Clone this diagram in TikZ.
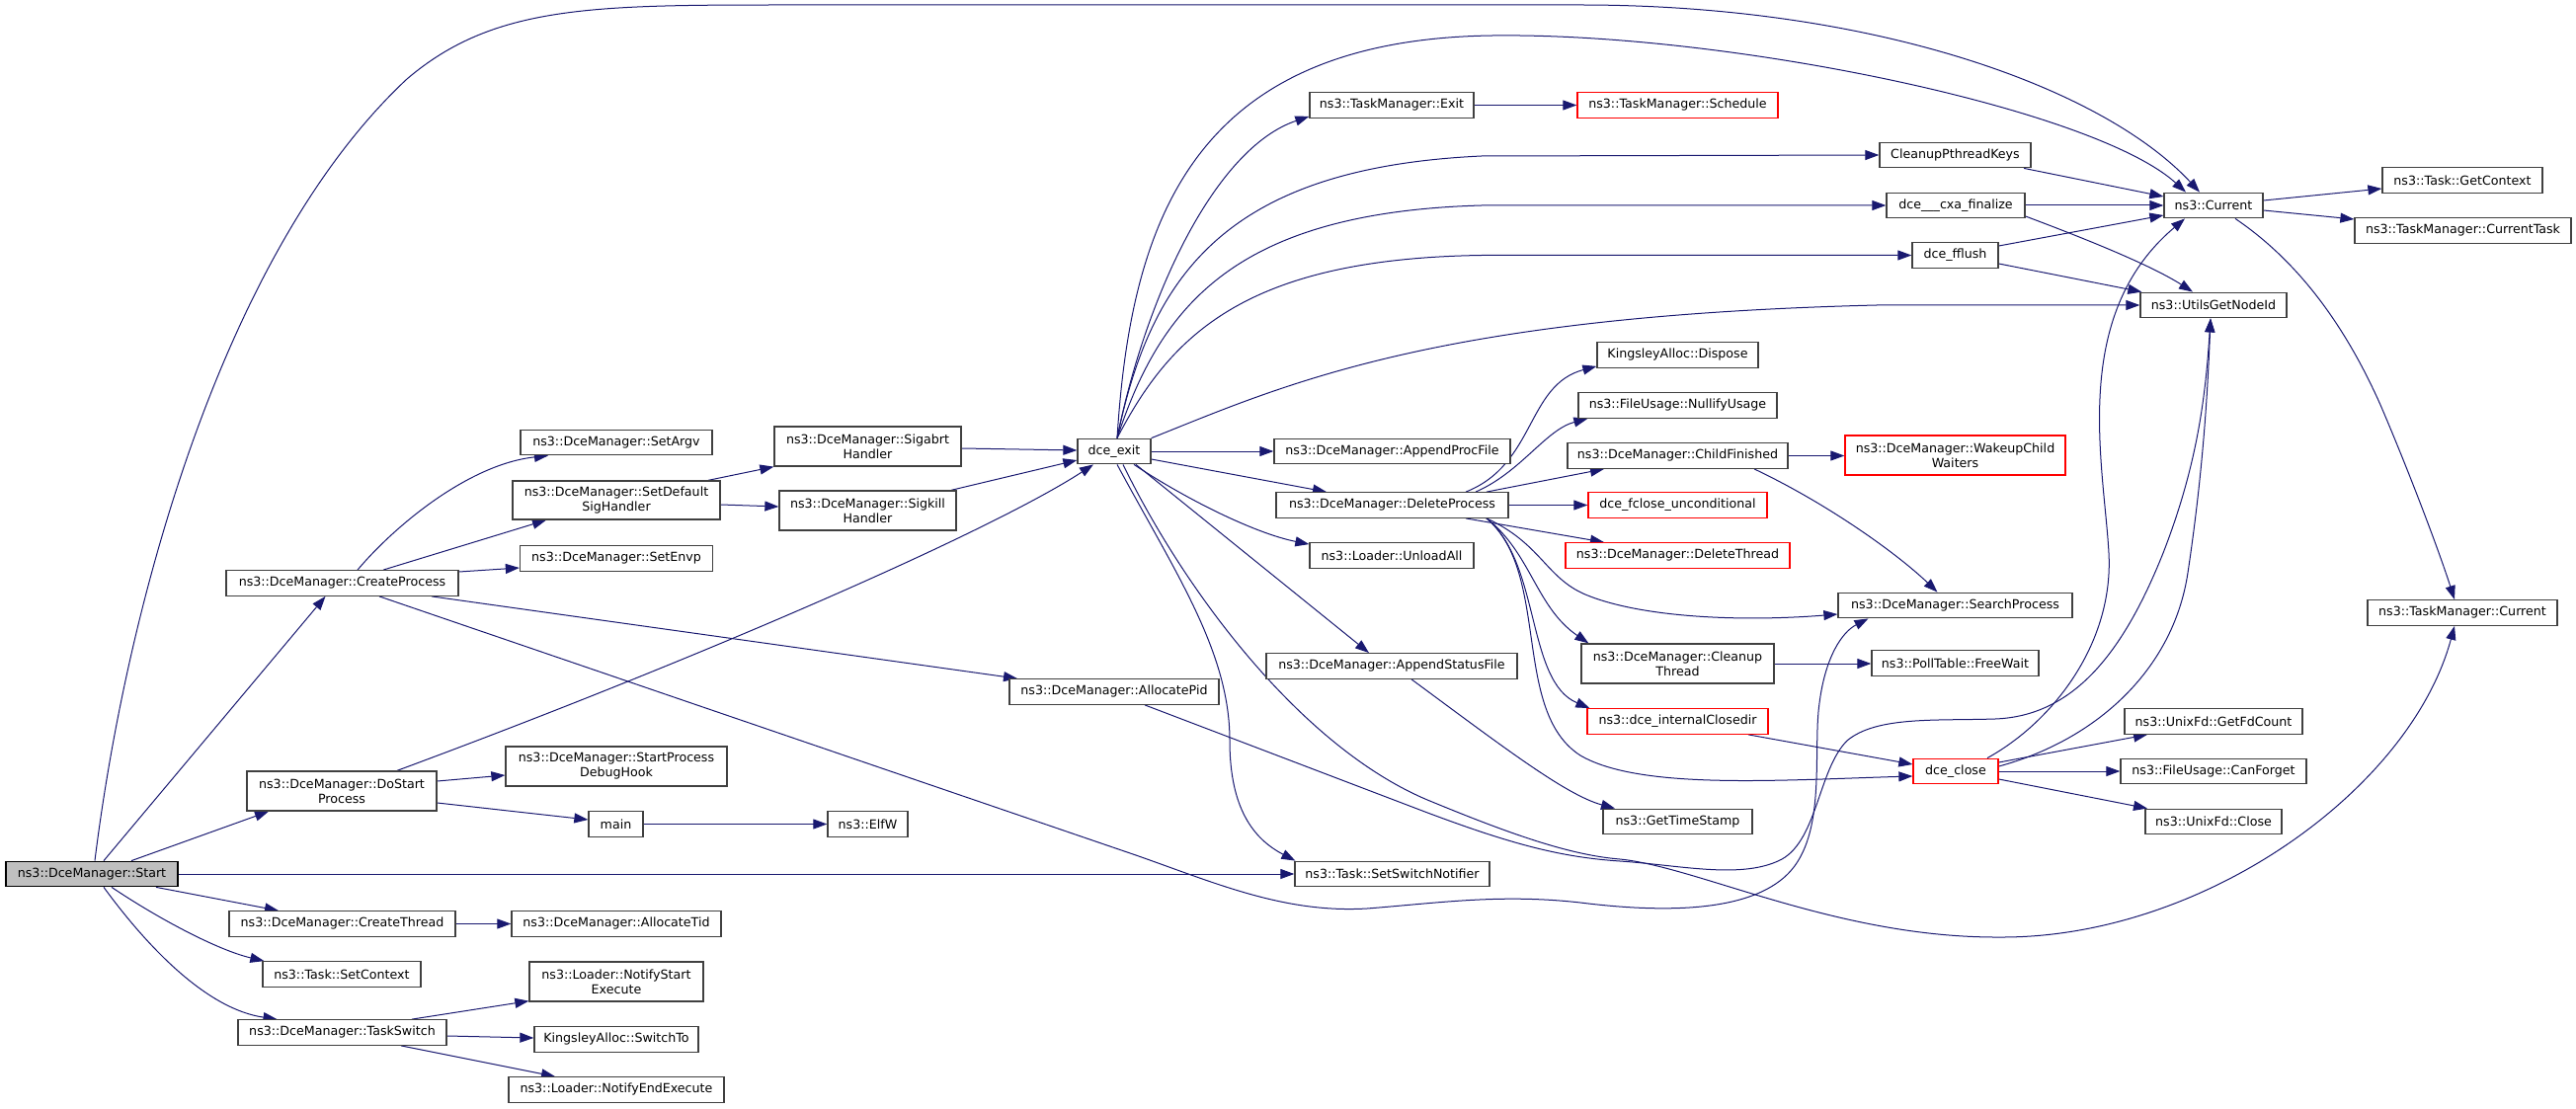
\documentclass[tikz,border=0pt]{standalone}
\usepackage{fontspec}
\setmainfont{DejaVu Sans}
\usetikzlibrary{arrows.meta}
\pgfdeclarelayer{bg}
\pgfsetlayers{bg,main}
\definecolor{edgec}{HTML}{191970}
\definecolor{boxc}{HTML}{404040}
\definecolor{startfill}{HTML}{BFBFBF}
\newcommand\fnt{\fontsize{12.65pt}{15pt}\selectfont}
\begin{document}
\begin{tikzpicture}[x=1pt,y=-1pt,
 fn/.style={draw=boxc, line width=1.3pt, fill=white, inner sep=0pt, minimum height=25.5pt, font=\fnt, align=center},
 fn2/.style={fn, minimum height=40pt},
 trunc/.style={draw=red},
 cg/.style={draw=edgec, line width=1.0pt, -{Triangle[length=14pt,width=10pt]}}]
\useasboundingbox (0,0) rectangle (2608,1123);

\node[fn, fill=startfill, draw=black, minimum width=174pt] (start) at (93,885) {ns3::DceManager::Start};
\node[fn, minimum width=235pt] (cproc) at (346.5,590.5) {ns3::DceManager::CreateProcess};
\node[fn2, minimum width=192pt] (dostart) at (346,801) {ns3::DceManager::DoStart\\Process};
\node[fn, minimum width=229pt] (cthread) at (346.5,935.5) {ns3::DceManager::CreateThread};
\node[fn, minimum width=160pt] (setctx) at (346,986.5) {ns3::Task::SetContext};
\node[fn, minimum width=211pt] (tswitch) at (346.5,1045.5) {ns3::DceManager::TaskSwitch};
\node[fn, minimum width=194pt] (setargv) at (624,448) {ns3::DceManager::SetArgv};
\node[fn2, minimum width=210pt, minimum height=39pt] (setdef) at (624,506.5) {ns3::DceManager::SetDefault\\SigHandler};
\node[fn, minimum width=195pt] (setenvp) at (624,565.5) {ns3::DceManager::SetEnvp};
\node[fn2, minimum width=224pt] (debughook) at (624,776) {ns3::DceManager::StartProcess\\DebugHook};
\node[fn, minimum width=55pt] (main) at (623.5,834.5) {main};
\node[fn, minimum width=212pt] (alloctid) at (624,935.5) {ns3::DceManager::AllocateTid};
\node[fn2, minimum width=176pt] (notifystart) at (624,994) {ns3::Loader::NotifyStart\\Execute};
\node[fn, minimum width=166pt] (switchto) at (624,1052.5) {KingsleyAlloc::SwitchTo};
\node[fn, minimum width=218pt] (notifyend) at (624,1103.5) {ns3::Loader::NotifyEndExecute};
\node[fn2, minimum width=189pt] (sigabrt) at (878.5,452) {ns3::DceManager::Sigabrt\\Handler};
\node[fn2, minimum width=179pt] (sigkill) at (878.5,517) {ns3::DceManager::Sigkill\\Handler};
\node[fn, minimum width=81pt] (elfw) at (878.5,834.5) {ns3::ElfW};
\node[fn, minimum width=74pt] (dceexit) at (1128,457) {dce\_exit};
\node[fn, minimum width=212pt] (allocpid) at (1128,700.5) {ns3::DceManager::AllocatePid};
\node[fn, minimum width=166pt] (tmexit) at (1409,106.5) {ns3::TaskManager::Exit};
\node[fn, minimum width=239pt] (appproc) at (1409.5,457) {ns3::DceManager::AppendProcFile};
\node[fn, minimum width=235pt] (delproc) at (1409.5,511.5) {ns3::DceManager::DeleteProcess};
\node[fn, minimum width=166pt] (unload) at (1409,562.5) {ns3::Loader::UnloadAll};
\node[fn, minimum width=254pt] (appstat) at (1409,674.5) {ns3::DceManager::AppendStatusFile};
\node[fn, minimum width=197pt] (setsw) at (1409.5,885) {ns3::Task::SetSwitchNotifier};
\node[fn, trunc, minimum width=203pt] (sched) at (1698.5,106.5) {ns3::TaskManager::Schedule};
\node[fn, minimum width=163pt] (dispose) at (1698.5,359.5) {KingsleyAlloc::Dispose};
\node[fn, minimum width=201pt] (nullify) at (1698.5,410.5) {ns3::FileUsage::NullifyUsage};
\node[fn, minimum width=223pt] (childfin) at (1698.5,461.5) {ns3::DceManager::ChildFinished};
\node[fn, trunc, minimum width=181pt] (fclose) at (1698.5,511.5) {dce\_fclose\_unconditional};
\node[fn, trunc, minimum width=227pt] (delthread) at (1698.5,562.5) {ns3::DceManager::DeleteThread};
\node[fn2, minimum width=195pt] (cleanthr) at (1698.5,672) {ns3::DceManager::Cleanup\\Thread};
\node[fn, trunc, minimum width=183pt] (closedir) at (1698.5,730.5) {ns3::dce\_internalClosedir};
\node[fn, minimum width=151pt] (timestamp) at (1698.5,832) {ns3::GetTimeStamp};
\node[fn, minimum width=153pt] (cleankeys) at (1979.5,157) {CleanupPthreadKeys};
\node[fn, minimum width=140pt] (cxa) at (1980,208) {dce\_\_\_cxa\_finalize};
\node[fn, minimum width=87pt] (fflush) at (1979.5,258.5) {dce\_fflush};
\node[fn2, trunc, minimum width=223pt] (wakeup) at (1979.5,461) {ns3::DceManager::WakeupChild\\Waiters};
\node[fn, minimum width=237pt] (search) at (1979.5,613) {ns3::DceManager::SearchProcess};
\node[fn, minimum width=169pt] (freewait) at (1979.5,671.5) {ns3::PollTable::FreeWait};
\node[fn, trunc, minimum width=86pt] (dceclose) at (1980,781) {dce\_close};
\node[fn, minimum width=100pt] (current) at (2241,208) {ns3::Current};
\node[fn, minimum width=148pt] (nodeid) at (2241,309) {ns3::UtilsGetNodeId};
\node[fn, minimum width=180pt] (fdcount) at (2241,730.5) {ns3::UnixFd::GetFdCount};
\node[fn, minimum width=188pt] (canforget) at (2241,781) {ns3::FileUsage::CanForget};
\node[fn, minimum width=138pt] (uclose) at (2241,832) {ns3::UnixFd::Close};
\node[fn, minimum width=162pt] (getctx) at (2493,182.5) {ns3::Task::GetContext};
\node[fn, minimum width=219pt] (curtask) at (2493.5,233.5) {ns3::TaskManager::CurrentTask};
\node[fn, minimum width=192pt] (tmcur) at (2493,620.5) {ns3::TaskManager::Current};

\begin{pgfonlayer}{bg}
\draw[cg] ([xshift=3pt]start.north) .. controls (130,600) and (230,250) .. (412,80) .. controls (500,5) and (600,5) .. (800,5) -- (1600,5) .. controls (1900,5) and (2130,90) .. ([xshift=-14pt]current.north);
\draw[cg] ([xshift=12pt]start.north) -- ([xshift=-17pt]cproc.south);
\draw[cg] ([xshift=40pt]start.north) -- ([xshift=-74pt]dostart.south);
\draw[cg] (start.east) -- (setsw.west);
\draw[cg] ([xshift=65pt]start.south) -- ([xshift=-64.5pt]cthread.north);
\draw[cg] ([xshift=20pt]start.south) .. controls (160,930) and (220,962) .. ([xshift=2pt]setctx.north west);
\draw[cg] ([xshift=12pt]start.south) .. controls (150,960) and (210,1022) .. ([xshift=-66pt]tswitch.north);
\draw[cg] ([xshift=15.5pt]cproc.north) .. controls (400,532) and (475,470) .. ([xshift=-69pt]setargv.south);
\draw[cg] ([xshift=41.5pt]cproc.north) -- ([xshift=-71pt]setdef.south);
\draw[cg] ([yshift=11.5pt]cproc.east) -- ([yshift=-9.5pt]setenvp.west);
\draw[cg] ([xshift=90.5pt]cproc.south) -- ([xshift=-98pt]allocpid.north);
\draw[cg] ([xshift=37.5pt]cproc.south) -- (1150,866) .. controls (1230,894) and (1300,925) .. (1384,920) .. controls (1460,914) and (1520,905) .. (1600,914) .. controls (1680,924) and (1770,925) .. (1810,885) .. controls (1850,845) and (1835,760) .. (1842,712) .. controls (1848,665) and (1865,640) .. ([xshift=-88pt]search.south);
\draw[cg] ([xshift=56pt]dostart.north) .. controls (700,670) and (1000,540) .. ([xshift=-21pt]dceexit.south);
\draw[cg] ([yshift=10pt]dostart.east) -- ([yshift=-9pt]debughook.west);
\draw[cg] ([yshift=-12pt]dostart.east) -- ([yshift=4.5pt]main.west);
\draw[cg] (main.east) -- (elfw.west);
\draw[cg] (cthread.east) -- (alloctid.west);
\draw[cg] ([xshift=70.5pt]tswitch.north) -- ([yshift=1pt]notifystart.south west);
\draw[cg] ([yshift=-3.5pt]tswitch.east) -- ([yshift=1.5pt]switchto.west);
\draw[cg] ([xshift=59.5pt]tswitch.south) -- ([xshift=-62pt]notifyend.north);
\draw[cg] ([xshift=93pt]setdef.north) -- (sigabrt.south west);
\draw[cg] ([yshift=-4.5pt]setdef.east) -- ([yshift=4pt]sigkill.west);
\draw[cg] ([yshift=-2pt]sigabrt.east) -- ([yshift=1pt]dceexit.west);
\draw[cg] ([xshift=84.5pt]sigkill.north) -- ([yshift=-9pt]dceexit.west);
\draw[cg] ([xshift=3pt]dceexit.north) .. controls (1145,220) and (1210,40) .. (1511,36) .. controls (1750,33) and (2120,110) .. ([xshift=-28pt]current.north);
\draw[cg] ([xshift=3pt]dceexit.north) .. controls (1160,300) and (1230,150) .. ([yshift=2pt]tmexit.south west);
\draw[cg] ([xshift=3pt]dceexit.north) .. controls (1165,280) and (1240,170) .. (1500,158) -- (cleankeys.west);
\draw[cg] ([xshift=3pt]dceexit.north) .. controls (1175,310) and (1250,215) .. (1500,208) -- (cxa.west);
\draw[cg] ([xshift=3pt]dceexit.north) .. controls (1185,340) and (1260,262) .. (1500,258.5) -- (fflush.west);
\draw[cg] (dceexit.north east) .. controls (1300,390) and (1450,320) .. (1900,309) -- (nodeid.west);
\draw[cg] (dceexit.east) -- (appproc.west);
\draw[cg] ([yshift=-8pt]dceexit.east) -- ([xshift=-66.5pt]delproc.north);
\draw[cg] ([xshift=20pt]dceexit.south) .. controls (1200,505) and (1270,540) .. ([yshift=-2pt]unload.north west);
\draw[cg] ([xshift=22pt]dceexit.south) -- ([xshift=-23pt]appstat.north);
\draw[cg] ([xshift=3pt]dceexit.south) .. controls (1190,580) and (1245,660) .. (1245,750) .. controls (1245,820) and (1270,850) .. ([xshift=1pt]setsw.north west);
\draw[cg] ([xshift=9pt]dceexit.south) .. controls (1200,600) and (1320,760) .. (1450,812) .. controls (1530,845) and (1590,866) .. (1640,870) .. controls (1720,878) and (1860,950) .. (2025,949) .. controls (2230,950) and (2440,800) .. ([xshift=-8pt]tmcur.south);
\draw[cg] ([xshift=31pt]allocpid.south) -- (1440,821) .. controls (1530,855) and (1580,868) .. (1640,872) .. controls (1700,876) and (1760,890) .. (1800,872) .. controls (1840,855) and (1840,780) .. (1870,750) .. controls (1900,725) and (1960,730) .. (2020,728) .. controls (2100,725) and (2150,660) .. (2190,560) .. controls (2225,470) and (2233,400) .. ([xshift=-3pt]nodeid.south);
\draw[cg] ([xshift=74.5pt]delproc.north) .. controls (1555,470) and (1545,390) .. ([yshift=2pt]dispose.south west);
\draw[cg] ([xshift=84.5pt]delproc.north) .. controls (1540,478) and (1565,435) .. ([xshift=10pt]nullify.south west);
\draw[cg] ([xshift=95.5pt]delproc.north) -- ([xshift=-74.5pt]childfin.south);
\draw[cg] (delproc.east) -- (fclose.west);
\draw[cg] ([xshift=74.5pt]delproc.south) -- ([xshift=-74.5pt]delthread.north);
\draw[cg] ([xshift=95.5pt]delproc.south) .. controls (1560,550) and (1565,585) .. (1605,602) .. controls (1660,625) and (1760,630) .. ([yshift=-9pt]search.west);
\draw[cg] ([xshift=95.5pt]delproc.south) .. controls (1550,560) and (1555,615) .. ([xshift=8pt]cleanthr.north west);
\draw[cg] ([xshift=95.5pt]delproc.south) .. controls (1560,570) and (1545,690) .. ([xshift=3pt]closedir.north west);
\draw[cg] ([xshift=95.5pt]delproc.south) .. controls (1570,580) and (1530,720) .. (1600,765) .. controls (1660,800) and (1800,790) .. ([yshift=-5pt]dceclose.west);
\draw[cg] (childfin.east) -- (childfin.east -| wakeup.west);
\draw[cg] ([xshift=77.5pt]childfin.south) .. controls (1850,510) and (1920,560) .. ([xshift=-18pt]search.north);
\draw[cg] (cleanthr.east) -- (cleanthr.east -| freewait.west);
\draw[cg] ([xshift=71.5pt]closedir.south) -- ([yshift=7pt]dceclose.west);
\draw[cg] ([xshift=20pt]appstat.south) .. controls (1520,755) and (1585,805) .. ([xshift=-63.5pt]timestamp.north);
\draw[cg] (tmexit.east) -- (sched.west);
\draw[cg] ([xshift=69.5pt]cleankeys.south) -- ([yshift=9pt]current.west);
\draw[cg] (cxa.east) -- (current.west);
\draw[cg] ([yshift=-11pt]cxa.east) .. controls (2120,245) and (2180,270) .. ([xshift=-21pt]nodeid.north);
\draw[cg] ([yshift=9.5pt]fflush.east) -- ([yshift=-10pt]current.west);
\draw[cg] ([yshift=-8.5pt]fflush.east) -- ([xshift=2pt]nodeid.north west);
\draw[cg] ([yshift=5pt]current.east) -- ([yshift=-8.5pt]getctx.west);
\draw[cg] ([yshift=-5pt]current.east) -- ([yshift=11.5pt]curtask.west);
\draw[cg] ([xshift=22pt]current.south) .. controls (2320,260) and (2370,320) .. (2410,410) .. controls (2440,480) and (2470,560) .. ([xshift=-8pt]tmcur.north);
\draw[cg] ([xshift=32pt]dceclose.north) .. controls (2080,730) and (2140,650) .. (2135,560) .. controls (2130,470) and (2095,320) .. ([xshift=-29pt]current.south);
\draw[cg] ([yshift=5pt]dceclose.east) .. controls (2120,750) and (2200,680) .. (2215,580) .. controls (2230,480) and (2235,400) .. ([xshift=-3pt]nodeid.south);
\draw[cg] ([yshift=9pt]dceclose.east) -- ([xshift=-67pt]fdcount.south);
\draw[cg] (dceclose.east) -- (canforget.west);
\draw[cg] ([yshift=-8pt]dceclose.east) -- ([xshift=-67pt]uclose.north);
\end{pgfonlayer}
\end{tikzpicture}
\end{document}
